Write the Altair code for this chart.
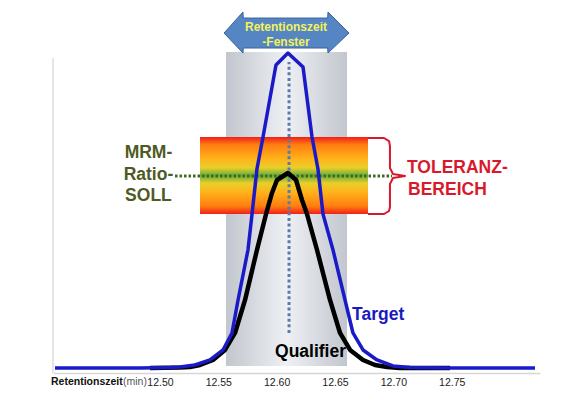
import altair as alt
import pandas as pd

# ---------------- data ----------------
target_time = [12.410, 12.483, 12.5086, 12.5171, 12.530, 12.5429, 12.554, 12.5617,
               12.5669, 12.5754, 12.5789, 12.5831, 12.5883, 12.5994, 12.6097, 12.6226,
               12.6303, 12.6354, 12.6397, 12.6483, 12.6586, 12.6654, 12.674, 12.686,
               12.6997, 12.7143, 12.7486, 12.8214]
target_intensity = [0, 0, 0.16, 0.32, 0.95, 2.54, 5.71, 11.11, 21.59, 37.46, 48.89,
                    63.17, 73.33, 96.19, 100, 95.56, 73.33, 63.17, 48.89, 37.46, 21.59,
                    11.11, 5.71, 2.54, 0.63, 0.16, 0, 0]

qual_time = [12.4914, 12.5171, 12.5257, 12.5343, 12.5454, 12.5557, 12.5643, 12.5729,
             12.5831, 12.5909, 12.596, 12.6003, 12.6097, 12.6166, 12.6217, 12.626,
             12.6346, 12.6457, 12.6543, 12.6629, 12.674, 12.6843, 12.6946, 12.7057, 12.7486]
qual_intensity = [0, 0.16, 0.32, 0.95, 2.54, 5.71, 11.11, 21.59, 37.46, 48.89, 55.56,
                  59.68, 61.90, 59.68, 53.33, 48.89, 37.46, 21.59, 11.11, 5.71, 2.54,
                  0.95, 0.32, 0, 0]

x_ticks = [12.50, 12.55, 12.60, 12.65, 12.70, 12.75]
x_domain = [12.4083, 12.8257]
y_domain = [-1.6, 114.3]

# retention time window (grey column)
window = {"t1": [12.5566], "t2": [12.6603], "y1": [0.63], "y2": [100.3]}
# tolerance band
band = {"t1": [12.5343], "t2": [12.6783], "y1": [48.89], "y2": [73.33]}
# bracket of the tolerance band
bracket_time = [12.6783, 12.6920, 12.6963, 12.6971, 12.6971, 12.6997, 12.7100,
                12.6997, 12.6971, 12.6971, 12.6963, 12.6920, 12.6783]
bracket_y = [73.02, 73.02, 72.06, 70.48, 63.49, 61.59, 60.95,
             60.32, 58.41, 51.11, 49.84, 48.89, 48.89]

ratio_soll = 60.95
ratio_line_time = [12.5129, 12.6989]
apex_time = 12.6106
apex_line_y = [11.11, 97.14]
left_axis_y = [-1.6, 98.4]

# double arrow for "Retentionszeit-Fenster"
arrow_time = [12.5549, 12.5711, 12.5714, 12.6437, 12.6440, 12.6620]
arrow_top = [106.35, 113.02, 111.11, 111.11, 113.02, 106.35]
arrow_bottom = [106.35, 100.0, 101.59, 101.59, 100.0, 106.35]

arrow_text = ["Retentionszeit", "-Fenster"]
arrow_text_time = [12.608, 12.608]
arrow_text_y = [108.25, 103.49]

mrm_text = ["MRM-", "Ratio-", "SOLL"]
mrm_time = [12.4901, 12.4901, 12.4901]
mrm_y = [68.25, 61.27, 54.6]

tol_text = ["TOLERANZ-", "BEREICH"]
tol_time = [12.7117, 12.7126]
tol_y = [63.49, 56.51]

series_text = ["Target", "Qualifier"]
series_text_time = [12.6646, 12.5986]
series_text_y = [16.83, 5.08]
series_text_color = ["#1a1ac0", "#000000"]

axis_title_text = ["Retentionszeit", "(min)"]
axis_title_time = [12.4066, 12.4683]
axis_title_y = [-4.6, -4.6]
axis_title_weight = ["bold", "normal"]

# ---------------- chart ----------------
FONT = "Liberation Sans"

x_axis = alt.Axis(values=x_ticks, format=".2f", title=None, grid=False, ticks=False,
                  tickSize=0, labelPadding=4, labelFont=FONT, labelFontSize=10.5,
                  labelColor="#222222", domainColor="#d6d6d6", domainWidth=1.5)
x_scale = alt.Scale(domain=x_domain, nice=False, zero=False)
y_scale = alt.Scale(domain=y_domain, nice=False, zero=False)


def X(field):
    return alt.X(field, type="quantitative", scale=x_scale, axis=x_axis)


def Y(field):
    return alt.Y(field, type="quantitative", scale=y_scale, axis=None)


grey_grad = alt.Gradient(
    gradient="linear", x1=0, x2=1, y1=0, y2=0,
    stops=[alt.GradientStop(color="#c2c6ce", offset=0),
           alt.GradientStop(color="#eef0f3", offset=0.5),
           alt.GradientStop(color="#c2c6ce", offset=1)])

band_grad = alt.Gradient(
    gradient="linear", x1=0, x2=0, y1=0, y2=1,
    stops=[alt.GradientStop(color="#f0201a", offset=0),
           alt.GradientStop(color="#ff7d10", offset=0.1),
           alt.GradientStop(color="#ffb21a", offset=0.28),
           alt.GradientStop(color="#e9cf2a", offset=0.4),
           alt.GradientStop(color="#66ac3c", offset=0.5),
           alt.GradientStop(color="#e9cf2a", offset=0.6),
           alt.GradientStop(color="#ffb21a", offset=0.72),
           alt.GradientStop(color="#ff7d10", offset=0.9),
           alt.GradientStop(color="#f0201a", offset=1)])

window_layer = alt.Chart(pd.DataFrame(window)).mark_rect(fill=grey_grad).encode(
    x=X("t1"), x2="t2", y=Y("y1"), y2="y2")

band_layer = alt.Chart(pd.DataFrame(band)).mark_rect(fill=band_grad).encode(
    x=X("t1"), x2="t2", y=Y("y1"), y2="y2")

bracket_df = pd.DataFrame({"t": bracket_time, "y": bracket_y,
                           "o": list(range(len(bracket_time)))})
bracket_layer = alt.Chart(bracket_df).mark_line(
    color="#d9192b", strokeWidth=2, strokeJoin="round").encode(
    x=X("t"), y=Y("y"), order="o:Q")

ratio_df = pd.DataFrame({"t": ratio_line_time, "y": [ratio_soll] * 2})
ratio_layer = alt.Chart(ratio_df).mark_line(
    color="#3f6a1e", strokeWidth=3, strokeDash=[2.5, 2]).encode(x=X("t"), y=Y("y"))

apex_df = pd.DataFrame({"t": [apex_time] * 2, "y": apex_line_y})
apex_layer = alt.Chart(apex_df).mark_line(
    color="#5a7bb0", strokeWidth=3, strokeDash=[3, 2.6]).encode(
    x=X("t"), y=Y("y"), order="y:Q")

left_df = pd.DataFrame({"t": [x_domain[0]] * 2, "y": left_axis_y})
left_layer = alt.Chart(left_df).mark_line(color="#dcdcdc", strokeWidth=1.5).encode(
    x=X("t"), y=Y("y"), order="y:Q")

qual_df = pd.DataFrame({"t": qual_time, "y": qual_intensity})
qual_layer = alt.Chart(qual_df).mark_line(
    color="#000000", strokeWidth=4.5, strokeJoin="round").encode(x=X("t"), y=Y("y"))

target_df = pd.DataFrame({"t": target_time, "y": target_intensity})
target_layer = alt.Chart(target_df).mark_line(
    color="#1a1ac8", strokeWidth=3.5, strokeJoin="round").encode(x=X("t"), y=Y("y"))

arrow_df = pd.DataFrame({"t": arrow_time, "y": arrow_top, "y2": arrow_bottom})
arrow_layer = alt.Chart(arrow_df).mark_area(
    fill="#5585c2", stroke="#3a64a0", strokeWidth=1).encode(
    x=X("t"), y=Y("y"), y2="y2")

arrow_text_df = pd.DataFrame({"t": arrow_text_time, "y": arrow_text_y, "s": arrow_text})
arrow_text_layer = alt.Chart(arrow_text_df).mark_text(
    font=FONT, fontWeight="bold", fontSize=12, color="#f2f25a",
    align="center", baseline="middle").encode(x=X("t"), y=Y("y"), text="s")

mrm_df = pd.DataFrame({"t": mrm_time, "y": mrm_y, "s": mrm_text})
mrm_layer = alt.Chart(mrm_df).mark_text(
    font=FONT, fontWeight="bold", fontSize=17.5, color="#4e5a24",
    align="center", baseline="middle").encode(x=X("t"), y=Y("y"), text="s")

tol_df = pd.DataFrame({"t": tol_time, "y": tol_y, "s": tol_text})
tol_layer = alt.Chart(tol_df).mark_text(
    font=FONT, fontWeight="bold", fontSize=17.5, color="#d9192b",
    align="left", baseline="middle").encode(x=X("t"), y=Y("y"), text="s")

series_df = pd.DataFrame({"t": series_text_time, "y": series_text_y,
                          "s": series_text, "c": series_text_color})
series_layer = alt.Chart(series_df).mark_text(
    font=FONT, fontWeight="bold", fontSize=17.5,
    align="left", baseline="middle").encode(
    x=X("t"), y=Y("y"), text="s", color=alt.Color("c:N", scale=None))

title_df = pd.DataFrame({"t": axis_title_time, "y": axis_title_y,
                         "s": axis_title_text, "w": axis_title_weight})
title_bold = alt.Chart(title_df.iloc[[0]]).mark_text(
    font=FONT, fontWeight="bold", fontSize=10.5, color="#111111",
    align="left", baseline="middle").encode(x=X("t"), y=Y("y"), text="s")
title_norm = alt.Chart(title_df.iloc[[1]]).mark_text(
    font=FONT, fontSize=10.5, color="#555555",
    align="left", baseline="middle").encode(x=X("t"), y=Y("y"), text="s")

chart = alt.layer(
    window_layer, band_layer, bracket_layer, left_layer, ratio_layer, apex_layer,
    qual_layer, target_layer, arrow_layer, arrow_text_layer, mrm_layer, tol_layer,
    series_layer, title_bold, title_norm
).properties(
    width=487, height=365,
    autosize=alt.AutoSizeParams(type="none"),
    padding={"left": 45, "top": 0, "right": 28, "bottom": 28},
).configure_view(stroke="transparent")

chart.save("out.html", embed_options={"renderer": "svg", "actions": False})
